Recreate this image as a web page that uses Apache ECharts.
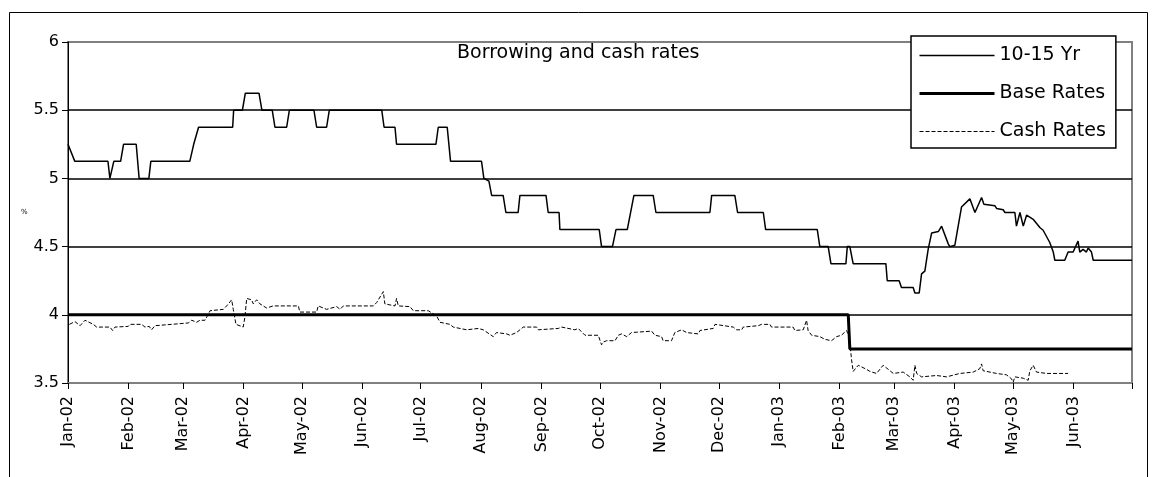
<!DOCTYPE html>
<html>
<head>
<meta charset="utf-8">
<title>Borrowing and cash rates</title>
<script src="https://cdn.jsdelivr.net/npm/echarts/dist/echarts.min.js"></script>
<style>
    html, body { margin: 0; padding: 0; background: #fff; }
    #chart { width: 1159px; height: 477px; }
</style>
</head>
<body>
<div id="chart"></div>
<script>
// x = days since 1 Jan 2002
var monthDays = [0, 31, 59, 90, 120, 151, 181, 212, 243, 273, 304, 334, 365, 396, 424, 455, 485, 516, 546];
var monthLabels = ['Jan-02', 'Feb-02', 'Mar-02', 'Apr-02', 'May-02', 'Jun-02', 'Jul-02', 'Aug-02', 'Sep-02',
    'Oct-02', 'Nov-02', 'Dec-02', 'Jan-03', 'Feb-03', 'Mar-03', 'Apr-03', 'May-03', 'Jun-03'];

// 10-15 Yr
var tenYrDays = [0, 3.5, 20.5, 21.5, 22.5, 23.5, 27, 28.5, 35, 36.5, 41.5, 42.5, 62.5, 64.5, 67, 84.5, 85, 89.5, 91, 98,
    99.5, 104.8, 106.2, 112.2, 113.6, 126.2, 127.6, 132.7, 134.1, 161, 162.2, 167.8, 168.6, 188.8, 190, 194.6, 196.3,
    212.2, 213.4, 216, 217.4, 223.3, 224.7, 231, 231.9, 245.3, 246.4, 252, 252.4, 272.6, 273.8, 279.4, 281.2, 287,
    290.4, 300.3, 301.7, 329.4, 330.3, 342.2, 343.6, 356.8, 358, 384.5, 385.8, 390.1, 391.5, 399.2, 399.9, 401.2,
    402.9, 419.7, 420.4, 426.5, 427.7, 433.7, 434.6, 436.8, 438, 439.7, 441.4, 443.2, 446.6, 448.3, 451.7, 452.5,
    455.1, 458.5, 462.8, 465.4, 468.8, 470, 475.6, 476.5, 479.9, 480.8, 485.9, 486.7, 488.5, 490.2, 491.9, 495.3,
    498.7, 500.4, 503.8, 505.6, 506.4, 511.5, 513.2, 515.8, 518.3, 519.2, 520.9, 522.6, 523.5, 525.2, 526.1, 546];
var tenYrValues = [5.25, 5.125, 5.125, 5.0, 5.0, 5.125, 5.125, 5.25, 5.25, 5.0, 5.0, 5.125, 5.125, 5.25, 5.375, 5.375, 5.5, 5.5, 5.625, 5.625,
    5.5, 5.5, 5.375, 5.375, 5.5, 5.5, 5.375, 5.375, 5.5, 5.5, 5.375, 5.375, 5.25, 5.25, 5.375, 5.375, 5.125,
    5.125, 5.0, 4.98, 4.875, 4.875, 4.75, 4.75, 4.875, 4.875, 4.75, 4.75, 4.625, 4.625, 4.5, 4.5, 4.625, 4.625,
    4.875, 4.875, 4.75, 4.75, 4.875, 4.875, 4.75, 4.75, 4.625, 4.625, 4.5, 4.5, 4.375, 4.375, 4.5, 4.5,
    4.375, 4.375, 4.25, 4.25, 4.2, 4.2, 4.16, 4.16, 4.3, 4.32, 4.48, 4.6, 4.61, 4.65, 4.52, 4.5,
    4.51, 4.79, 4.85, 4.75, 4.86, 4.81, 4.8, 4.78, 4.77, 4.75, 4.75, 4.65, 4.75, 4.65, 4.73, 4.7,
    4.64, 4.62, 4.53, 4.46, 4.4, 4.4, 4.46, 4.46, 4.54, 4.46, 4.48, 4.46, 4.49, 4.46, 4.4, 4.4];

// Base Rates
var baseDays = [0, 400.4, 401.2, 546];
var baseValues = [4.0, 4.0, 3.75, 3.75];

// Cash Rates
var cashDays = [0.7, 3.6, 6.2, 8.7, 13, 14.7, 21.5, 22.9, 24.1, 30.9, 31.8, 37.8, 39.5, 41.7, 42.9, 44.6, 61.7, 63.5,
    66, 67.7, 70.3, 72.9, 79.7, 81.4, 84, 84.8, 86.2, 89.9, 90.8, 91.7, 94.2, 95.1, 96.8, 98.5, 100.2, 101.9,
    105.3, 118.2, 119, 127.6, 128.4, 132.7, 137.9, 139.6, 141.3, 156.7, 158.4, 161.8, 162.6, 167.8, 168.6, 169.5,
    175.5, 177.2, 184.9, 189.2, 190.9, 196, 197.7, 204.6, 210.5, 213.1, 218.2, 219.9, 225.1, 226.8, 230.2, 233.6,
    240.5, 241.3, 251.6, 253.3, 260.1, 261.8, 265.3, 272.1, 273.8, 274.7, 276.4, 280.7, 282.4, 284.1, 286.7, 289.2,
    299.5, 301.2, 304.6, 305.4, 309.7, 311.4, 314.9, 317.4, 323.4, 324.3, 331.1, 332, 341.4, 343.1, 345.7, 346.5,
    354.2, 355.9, 360.2, 361, 372.1, 373, 377.3, 379, 379.8, 381.6, 385.8, 388.4, 391.8, 394.4, 396.9, 399.5,
    400.9, 402.1, 402.9, 405.5, 409.8, 411.5, 414.9, 418.3, 421.8, 423.5, 428.6, 432, 433.7, 434.6, 435.5, 438,
    445.7, 450.8, 457.7, 464.5, 467.9, 468.8, 469.6, 476.5, 481.6, 484.2, 485, 485.9, 490.2, 492.7, 493.6, 495.3,
    497, 502.2, 513.2];
var cashValues = [3.93, 3.95, 3.92, 3.96, 3.93, 3.91, 3.91, 3.885, 3.91, 3.915, 3.93, 3.93, 3.91, 3.915, 3.89, 3.92, 3.94, 3.96,
    3.945, 3.96, 3.96, 4.03, 4.04, 4.065, 4.11, 4.04, 3.93, 3.91, 3.985, 4.12, 4.11, 4.08, 4.11, 4.08, 4.065, 4.05,
    4.065, 4.065, 4.02, 4.02, 4.065, 4.04, 4.06, 4.04, 4.065, 4.065, 4.09, 4.17, 4.08, 4.065, 4.12, 4.065,
    4.06, 4.03, 4.03, 3.99, 3.945, 3.93, 3.91, 3.89, 3.9, 3.89, 3.84, 3.87, 3.86, 3.85, 3.87, 3.91,
    3.91, 3.89, 3.9, 3.91, 3.89, 3.9, 3.85, 3.85, 3.78, 3.8, 3.81, 3.81, 3.85, 3.86, 3.84, 3.87,
    3.88, 3.85, 3.84, 3.81, 3.81, 3.87, 3.89, 3.87, 3.86, 3.885, 3.9, 3.93, 3.91, 3.89, 3.89, 3.91,
    3.92, 3.93, 3.93, 3.91, 3.91, 3.885, 3.89, 3.96, 3.885, 3.85, 3.84, 3.82, 3.81, 3.84, 3.85, 3.885,
    3.84, 3.67, 3.585, 3.63, 3.6, 3.585, 3.57, 3.63, 3.59, 3.57, 3.58, 3.545, 3.52, 3.63, 3.57, 3.545,
    3.555, 3.545, 3.57, 3.58, 3.605, 3.64, 3.59, 3.57, 3.56, 3.53, 3.505, 3.545, 3.535, 3.52, 3.59, 3.63,
    3.58, 3.57, 3.57];

var pairs = function (xs, ys) {
    return xs.map(function (x, i) { return [x, ys[i]]; });
};

var font = 'DejaVu Sans';
var chart = echarts.init(document.getElementById('chart'));

var option = {
    animation: false,
    backgroundColor: '#fff',
    title: {
        text: 'Borrowing and cash rates',
        left: 457,
        top: 44,
        padding: 0,
        textStyle: { fontFamily: font, fontSize: 19, fontWeight: 'normal', color: '#000' }
    },
    legend: {
        orient: 'vertical',
        left: 911,
        top: 36,
        padding: [10, 10, 7, 7],
        itemGap: 19,
        itemWidth: 75,
        itemHeight: 14,
        backgroundColor: '#fff',
        borderColor: '#000',
        borderWidth: 1.5,
        borderRadius: 0,
        // line only, no marker
        itemStyle: { opacity: 0 },
        lineStyle: { width: 'inherit' },
        textStyle: { fontFamily: font, fontSize: 19, color: '#000' },
        data: ['10-15 Yr', 'Base Rates', 'Cash Rates']
    },
    grid: {
        left: 68,
        right: 27,
        top: 42,
        bottom: 94,
        show: true,
        borderColor: '#808080',
        borderWidth: 2
    },
    xAxis: {
        type: 'value',
        min: 0,
        max: 546,
        axisLine: { lineStyle: { color: '#808080', width: 2 } },
        axisTick: {
            customValues: monthDays,
            length: 6,
            lineStyle: { color: '#000', width: 1 }
        },
        axisLabel: {
            customValues: monthDays.slice(0, monthLabels.length),
            rotate: 90,
            margin: 13,
            fontFamily: font,
            fontSize: 16,
            color: '#000',
            formatter: function (v) {
                return monthLabels[monthDays.indexOf(v)];
            }
        },
        splitLine: { show: false }
    },
    yAxis: {
        type: 'value',
        min: 3.5,
        max: 6,
        interval: 0.5,
        name: '%',
        nameLocation: 'middle',
        nameGap: 36,
        nameRotate: 0,
        nameTextStyle: { fontFamily: font, fontSize: 7, color: '#000' },
        axisLine: { show: true, lineStyle: { color: '#000', width: 1 } },
        axisTick: { show: true, length: 6, lineStyle: { color: '#000' } },
        axisLabel: { fontFamily: font, fontSize: 16, color: '#000', margin: 9 },
        splitLine: {
            show: true,
            showMinLine: false,
            showMaxLine: false,
            lineStyle: { color: '#000', width: 1.5 }
        }
    },
    graphic: [
        {
            type: 'rect',
            shape: { x: 9.5, y: 12.5, width: 1138, height: 500 },
            style: { fill: 'none', stroke: '#000', lineWidth: 1 },
            silent: true
        }
    ],
    series: [
        {
            name: '10-15 Yr',
            type: 'line',
            symbol: 'none',
            lineStyle: { color: '#000', width: 1.5 },
            itemStyle: { color: '#000' },
            data: pairs(tenYrDays, tenYrValues)
        },
        {
            name: 'Base Rates',
            type: 'line',
            symbol: 'none',
            lineStyle: { color: '#000', width: 3 },
            itemStyle: { color: '#000' },
            data: pairs(baseDays, baseValues)
        },
        {
            name: 'Cash Rates',
            type: 'line',
            symbol: 'none',
            lineStyle: { color: '#000', width: 1, type: [4, 2] },
            itemStyle: { color: '#000' },
            data: pairs(cashDays, cashValues)
        }
    ]
};

chart.setOption(option);
</script>
</body>
</html>
